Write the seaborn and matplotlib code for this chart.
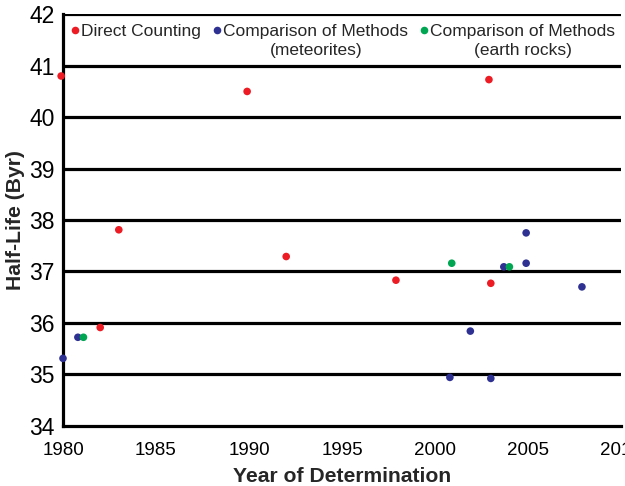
"""Half-life determinations by year, three measurement methods."""

import pandas as pd
import matplotlib
matplotlib.use("Agg")
import matplotlib.pyplot as plt
from matplotlib.legend import Legend
import seaborn as sns

# Direct counting
direct_year = [1979.9, 1982.0, 1983.0, 1989.9, 1992.0, 1997.9, 2002.9, 2003.0]
direct_half = [40.80, 35.91, 37.81, 40.50, 37.29, 36.83, 40.73, 36.77]

# Comparison of methods, meteorites
meteor_year = [1980.0, 1980.8, 2000.8, 2001.9, 2003.0, 2003.7, 2004.9, 2004.9, 2007.9]
meteor_half = [35.31, 35.72, 34.94, 35.84, 34.92, 37.09, 37.75, 37.16, 36.70]

# Comparison of methods, earth rocks
rock_year = [1981.1, 2000.9, 2004.0]
rock_half = [35.72, 37.16, 37.09]

series_names = ["Direct Counting",
                "Comparison of Methods (meteorites)",
                "Comparison of Methods (earth rocks)"]
legend_lines = [("Direct Counting", None),
                ("Comparison of Methods", "(meteorites)"),
                ("Comparison of Methods", "(earth rocks)")]
series_colors = ["#ED1C24", "#2E3192", "#00A651"]

x_ticks = [1980, 1985, 1990, 1995, 2000, 2005, 2010]
y_ticks = [34, 35, 36, 37, 38, 39, 40, 41, 42]

df = pd.concat([
    pd.DataFrame({"year": direct_year, "half": direct_half, "method": series_names[0]}),
    pd.DataFrame({"year": meteor_year, "half": meteor_half, "method": series_names[1]}),
    pd.DataFrame({"year": rock_year, "half": rock_half, "method": series_names[2]}),
], ignore_index=True)

sns.set_style("white")
plt.rcParams["font.family"] = ["Liberation Sans", "DejaVu Sans"]

fig = plt.figure(figsize=(6.25, 4.86), dpi=100)
ax = fig.add_axes([0.1008, 0.124, 0.8928, 0.8466])

sns.scatterplot(data=df, x="year", y="half", hue="method", hue_order=series_names,
                palette=series_colors, s=30, edgecolor="none", ax=ax,
                clip_on=False, zorder=5)

ax.set_xlim(1980, 2010)
ax.set_ylim(34, 42)
ax.set_xticks(x_ticks)
ax.set_yticks(y_ticks)
ax.set_xticklabels([str(t) for t in x_ticks], fontsize=13.5)
ax.set_yticklabels([str(t) for t in y_ticks], fontsize=16.5)

for v in y_ticks[1:]:
    ax.axhline(v, color="black", lw=2.3, zorder=2)

for side in ["top", "right"]:
    ax.spines[side].set_visible(False)
for side in ["left", "bottom"]:
    ax.spines[side].set_color("black")
    ax.spines[side].set_linewidth(2.3)

ax.tick_params(axis="y", direction="out", length=4, width=2, pad=2, colors="black")
ax.tick_params(axis="x", direction="out", length=6.5, width=1.6, pad=5, colors="black")

ax.set_xlabel("Year of Determination", fontsize=15.2, fontweight="bold", labelpad=6)
ax.set_ylabel("Half-Life (Byr)", fontsize=15.2, fontweight="bold", labelpad=3)

# legend: three separate entries along the top, second line centred below
handles, labels = ax.get_legend_handles_labels()
ax.get_legend().remove()
anchors = [0.0125, 0.267, 0.638]
for h, (first, second), xa in zip(handles, legend_lines, anchors):
    leg = Legend(ax, [h], [first], loc="upper left", bbox_to_anchor=(xa, 0.976),
                 frameon=False, handletextpad=0.05, handlelength=0.6,
                 borderpad=0, borderaxespad=0, fontsize=12.5)
    leg.set_zorder(6)
    ax.add_artist(leg)
    if second:
        ax.annotate(second, xy=(0.5, 0), xycoords=leg.get_texts()[0],
                    xytext=(0, -2.5), textcoords="offset points",
                    ha="center", va="top", fontsize=12.5, zorder=7)

fig.savefig("out.png", dpi=100)
plt.close(fig)
